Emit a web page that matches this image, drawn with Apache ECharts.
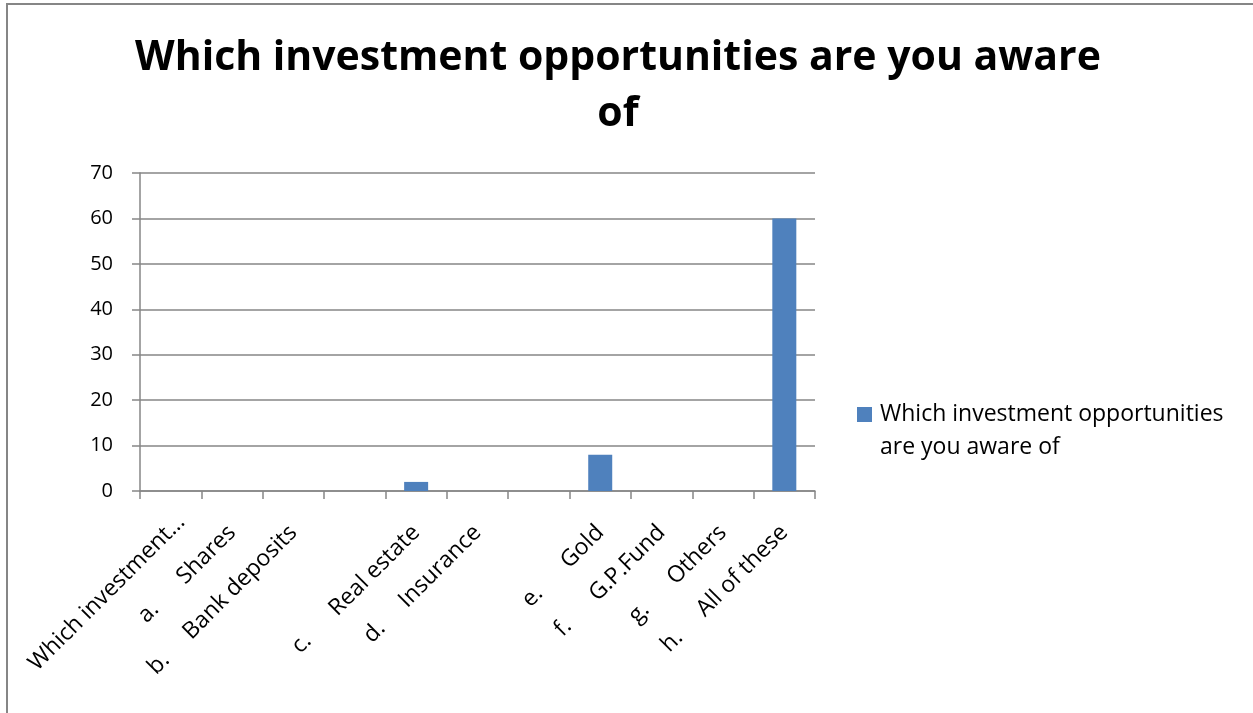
<!DOCTYPE html>
<html>
<head>
<meta charset="utf-8">
<script src="https://cdn.jsdelivr.net/npm/echarts@6/dist/echarts.min.js"></script>
<style>
  html, body { margin: 0; padding: 0; background: #ffffff; }
  #frame {
    position: absolute; left: 0; top: 0; width: 1253px; height: 713px;
    overflow: hidden; background: #ffffff;
  }
  #border {
    position: absolute; left: 6px; top: 3px; width: 1300px; height: 800px;
    border-left: 2px solid #868686; border-top: 2px solid #868686;
    box-sizing: border-box;
  }
  #chart { position: absolute; left: 0; top: 0; width: 1253px; height: 713px; }
</style>
</head>
<body>
<div id="frame">
  <div id="border"></div>
  <div id="chart"></div>
</div>
<script>
// Survey question and answer options (tab gaps rendered as spaces)
const chartTitle = 'Which investment opportunities are you aware\nof';
const seriesName = 'Which investment opportunities are you aware of';
const legendLines = ['Which investment opportunities', 'are you aware of'];
const categories = [
  'Which investment\u2026',
  'a.      Shares',
  'b.     Bank deposits',
  '',
  'c.      Real estate',
  'd.     Insurance',
  '',
  'e.      Gold',
  'f.      G.P.Fund',
  'g.      Others',
  'h.     All of these'
];
const values = [0, 0, 0, 0, 2, 0, 0, 8, 0, 0, 60];
const yTicks = { min: 0, max: 70, interval: 10 };

const FONT = '"Open Sans"';
const GRAY = '#868686';

// the truncated question label sits a little further along its slant
const categoryData = categories.map((name, i) =>
  i === 0 ? { value: name, textStyle: { padding: [0, -15, 0, 0] } } : name
);

const chart = echarts.init(document.getElementById('chart'), null, { renderer: 'canvas' });
chart.setOption({
  backgroundColor: 'transparent',
  animation: false,
  title: {
    text: chartTitle,
    left: 613,
    top: 25,
    textAlign: 'center',
    textStyle: {
      fontFamily: FONT, fontWeight: 'bold', fontSize: 41,
      lineHeight: 56, color: '#000000'
    }
  },
  legend: {
    data: [seriesName],
    left: 857,
    top: 365,
    padding: 0,
    icon: 'rect',
    itemWidth: 15,
    itemHeight: 15,
    // leading blank line keeps the first text line level with the swatch
    formatter: () => '\n' + legendLines.join('\n'),
    textStyle: {
      fontFamily: FONT, fontSize: 23, color: '#000000', lineHeight: 33,
      padding: [0, 0, 0, 3]
    }
  },
  grid: { left: 140, right: 438, top: 173, bottom: 222, containLabel: false },
  xAxis: {
    type: 'category',
    data: categoryData,
    boundaryGap: true,
    axisLine: { show: true, lineStyle: { color: GRAY, width: 1.5 } },
    axisTick: { show: true, length: 8, interval: 0, alignWithLabel: false, lineStyle: { color: GRAY, width: 1.5 } },
    axisLabel: {
      interval: 0, rotate: 45, margin: 38,
      fontFamily: FONT, fontSize: 23, color: '#000000'
    },
    splitLine: { show: false }
  },
  yAxis: {
    type: 'value',
    min: yTicks.min, max: yTicks.max, interval: yTicks.interval,
    axisLine: { show: true, lineStyle: { color: GRAY, width: 1.5 } },
    axisTick: { show: true, length: 8, inside: false, lineStyle: { color: GRAY, width: 1.5 } },
    axisLabel: { margin: 27, fontFamily: FONT, fontSize: 20, color: '#000000' },
    splitLine: { show: true, lineStyle: { color: GRAY, width: 1.5 } }
  },
  series: [{
    name: seriesName,
    type: 'bar',
    data: values,
    barWidth: 24,
    itemStyle: { color: '#4F81BD' }
  }]
});
</script>
</body>
</html>
